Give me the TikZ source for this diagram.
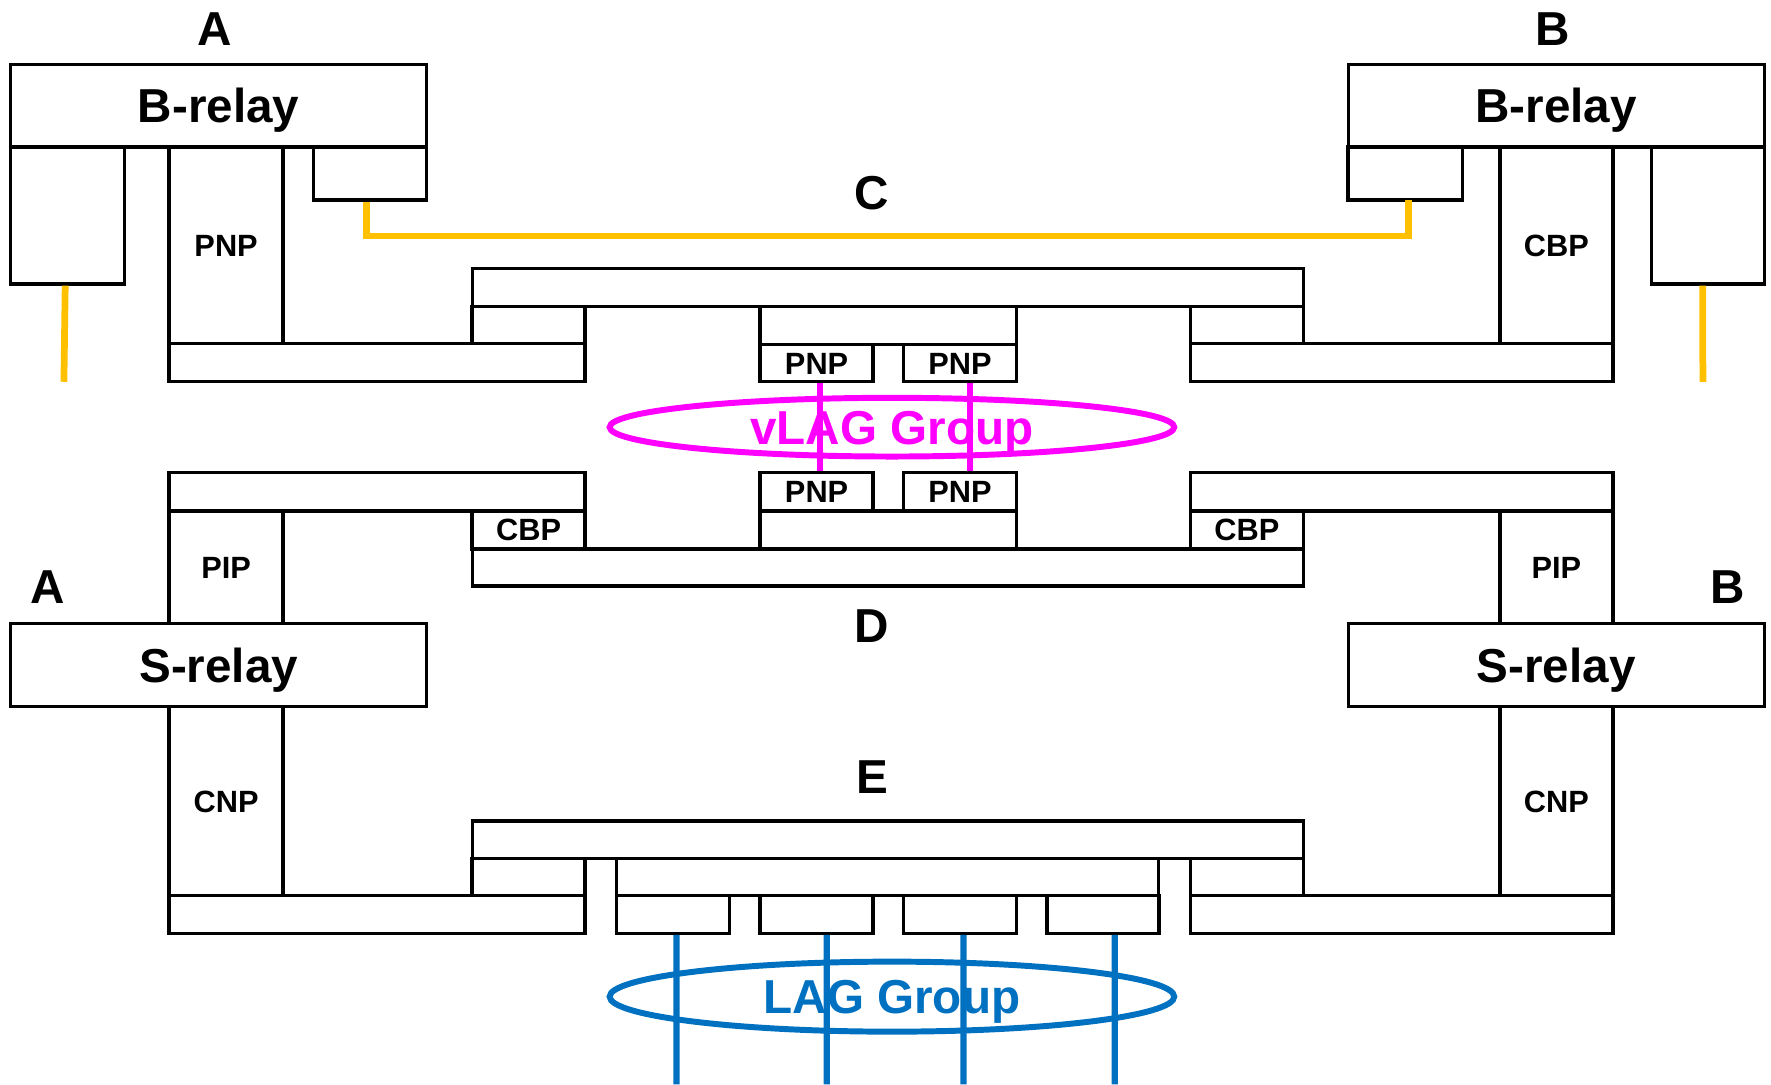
\documentclass[tikz,border=0pt]{standalone}
\usepackage{fontspec}
\setmainfont{Liberation Sans}
\usetikzlibrary{shapes.geometric}
\definecolor{cgold}{HTML}{FFC000}
\definecolor{vmag}{HTML}{FF00FF}
\definecolor{lagblue}{HTML}{0070C0}
\tikzstyle{blk} = [draw=black, rectangle, line width=1.7pt, inner sep=0pt, outer sep=0pt, font=\fontsize{15.5}{18}\selectfont\bfseries, text height=11.1pt, text depth=0pt]
\tikzstyle{relay} = [blk, font=\fontsize{24}{28}\selectfont\bfseries, text height=17.2pt]
\tikzstyle{lbl} = [inner sep=0pt, font=\fontsize{24}{28}\selectfont\bfseries, text height=17.2pt, text depth=0pt]
\tikzstyle{group} = [ellipse, line width=3pt, inner sep=0pt, minimum width=10cm, font=\fontsize{24}{28}\selectfont\bfseries, text height=17.2pt, text depth=0pt]
\tikzstyle{cline} = [draw=cgold, line width=3.4pt, shorten <=0.03cm]
\tikzstyle{vlink} = [draw=vmag, line width=2.85pt, shorten <=0.03cm, shorten >=0.03cm]
\tikzstyle{lagline} = [draw=lagblue, line width=3.1pt, shorten <=0.03cm]

\begin{document}
\begin{tikzpicture}[x=0.02cm, y=-0.02cm]

        \useasboundingbox (0,0) rectangle (1568,960);

        % B-relay A
        \node (brA) [relay, minimum width=7.364cm, minimum height=1.46cm] at (193.6,93.5) {B-relay};
        \node (hangA) [blk, minimum width=2.01cm, minimum height=2.428cm] at (59.75,190.7) {};
        \node (pnpA) [blk, minimum width=2.02cm, minimum height=3.48cm] at (200.2,217) {PNP};
        \node (smA) [blk, minimum width=2cm, minimum height=0.94cm] at (327.75,153.5) {};
        \node (barA) [blk, minimum width=7.366cm, minimum height=0.68cm] at (333.85,321) {};

        % B-relay B
        \node (brB) [relay, minimum width=7.368cm, minimum height=1.46cm] at (1377.8,93.5) {B-relay};
        \node (smB) [blk, minimum width=2.028cm, minimum height=0.94cm] at (1244.3,153.5) {};
        \node (cbpB) [blk, minimum width=2cm, minimum height=3.48cm] at (1378,217) {CBP};
        \node (hangB) [blk, minimum width=2cm, minimum height=2.428cm] at (1512,190.7) {};
        \node (barB) [blk, minimum width=7.48cm, minimum height=0.68cm] at (1241,321) {};

        % Bridge C
        \node (cTop) [blk, minimum width=14.72cm, minimum height=0.68cm] at (786,254.5) {};
        \node (cL) [blk, minimum width=2cm, minimum height=0.65cm] at (468,287.75) {};
        \node (cR) [blk, minimum width=2cm, minimum height=0.65cm] at (1104,287.75) {};
        \node (cMid) [blk, minimum width=4.54cm, minimum height=0.67cm] at (786.5,288.25) {};
        \node (cP1) [blk, minimum width=2cm, minimum height=0.66cm] at (723,321.5) {PNP};
        \node (cP2) [blk, minimum width=2cm, minimum height=0.66cm] at (850,321.5) {PNP};

        % Bridge D
        \node (dP1) [blk, minimum width=2cm, minimum height=0.678cm] at (723,435.45) {PNP};
        \node (dP2) [blk, minimum width=2cm, minimum height=0.678cm] at (850,435.45) {PNP};
        \node (dMid) [blk, minimum width=4.54cm, minimum height=0.672cm] at (786.5,469.2) {};
        \node (dL) [blk, minimum width=2cm, minimum height=0.672cm] at (468,469.2) {CBP};
        \node (dR) [blk, minimum width=2cm, minimum height=0.672cm] at (1104,469.2) {CBP};
        \node (dBot) [blk, minimum width=14.72cm, minimum height=0.656cm] at (786,502.4) {};

        % S-relay A
        \node (topA) [blk, minimum width=7.366cm, minimum height=0.678cm] at (333.85,435.45) {};
        \node (pipA) [blk, minimum width=2.02cm, minimum height=1.988cm] at (200.2,502.1) {PIP};
        \node (srA) [relay, minimum width=7.364cm, minimum height=1.478cm] at (193.6,588.75) {S-relay};
        \node (cnpA) [blk, minimum width=2.02cm, minimum height=3.346cm] at (200.2,709.35) {CNP};
        \node (lowA) [blk, minimum width=7.366cm, minimum height=0.666cm] at (333.85,809.65) {};

        % S-relay B
        \node (topB) [blk, minimum width=7.48cm, minimum height=0.678cm] at (1241,435.45) {};
        \node (pipB) [blk, minimum width=2cm, minimum height=1.988cm] at (1378,502.1) {PIP};
        \node (srB) [relay, minimum width=7.368cm, minimum height=1.478cm] at (1377.8,588.75) {S-relay};
        \node (cnpB) [blk, minimum width=2cm, minimum height=3.346cm] at (1378,709.35) {CNP};
        \node (lowB) [blk, minimum width=7.48cm, minimum height=0.666cm] at (1241,809.65) {};

        % Bridge E
        \node (eTop) [blk, minimum width=14.72cm, minimum height=0.66cm] at (786,743.5) {};
        \node (eL) [blk, minimum width=2cm, minimum height=0.66cm] at (468,776.5) {};
        \node (eR) [blk, minimum width=2cm, minimum height=0.66cm] at (1104,776.5) {};
        \node (eMid) [blk, minimum width=9.6cm, minimum height=0.66cm] at (786,776.5) {};
        \node (eP1) [blk, minimum width=2cm, minimum height=0.666cm] at (596,809.65) {};
        \node (eP2) [blk, minimum width=2cm, minimum height=0.666cm] at (723,809.65) {};
        \node (eP3) [blk, minimum width=2cm, minimum height=0.666cm] at (850,809.65) {};
        \node (eP4) [blk, minimum width=1.98cm, minimum height=0.666cm] at (976.5,809.65) {};

        % Labels
        \node (labA) [lbl] at (190.5,25) {A};
        \node (labB) [lbl] at (1374.6,25) {B};
        \node (labC) [lbl] at (772,170.5) {C};
        \node (labD) [lbl] at (772,554) {D};
        \node (labE) [lbl] at (772.5,687.7) {E};
        \node (labA2) [lbl] at (42.3,519) {A};
        \node (labB2) [lbl] at (1530,519) {B};

        % Groups
        \node (vlag) [group, draw=vmag, text=vmag, minimum height=1.04cm] at (789.7,378.2) {vLAG Group};
        \node (lag) [group, draw=lagblue, text=lagblue, minimum height=1.24cm] at (789.7,882.4) {LAG Group};

        % Free ends
        \coordinate (endA) at (56.6,338);
        \coordinate (endB) at (1507.7,338);
        \coordinate (cbend) at (786,209);
        \coordinate (lag1) at (599,960);
        \coordinate (lag2) at (732,960);
        \coordinate (lag3) at (853,960);
        \coordinate (lag4) at (987,960);

        % Backbone links
        \draw [cline] ([xshift=-0.04cm]hangA.south) -- (endA);
        \draw [cline] ([xshift=-0.09cm]hangB.south) -- (endB);
        \draw [cline] ([xshift=-0.07cm]smA.south) |- (cbend) -| ([xshift=0.06cm]smB.south);

        % vLAG links
        \draw [vlink] ([xshift=0.06cm]cP1.south) -- ([xshift=0.06cm]dP1.north);
        \draw [vlink] ([xshift=0.18cm]cP2.south) -- ([xshift=0.18cm]dP2.north);

        % LAG links
        \draw [lagline] ([xshift=0.06cm]eP1.south) -- (lag1);
        \draw [lagline] ([xshift=0.18cm]eP2.south) -- (lag2);
        \draw [lagline] ([xshift=0.06cm]eP3.south) -- (lag3);
        \draw [lagline] ([xshift=0.21cm]eP4.south) -- (lag4);

\end{tikzpicture}
\end{document}
